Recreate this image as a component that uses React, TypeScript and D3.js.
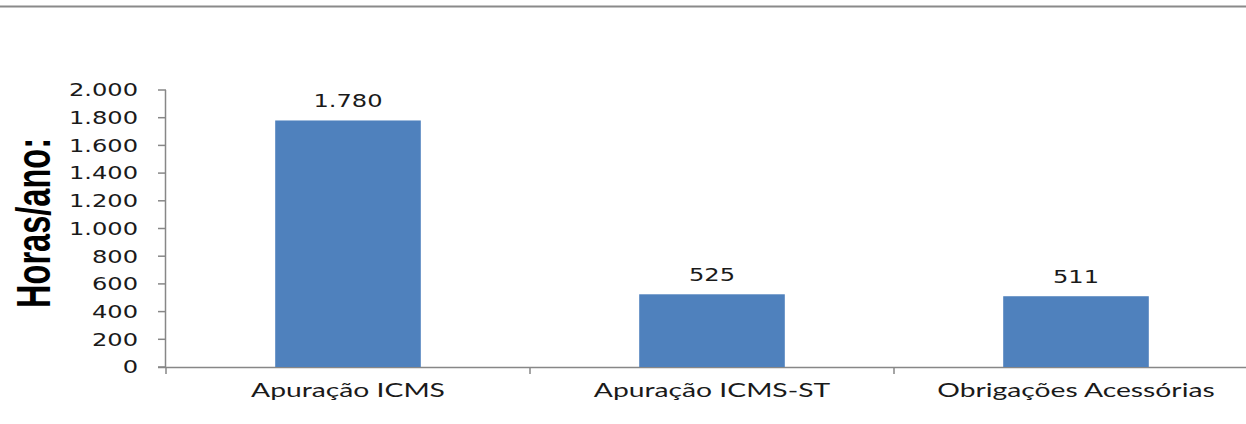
import * as d3 from "d3";
import React from "react";

const categories = ["Apuração ICMS", "Apuração ICMS-ST", "Obrigações Acessórias"];
const hours = [1780, 525, 511];
const yTicks = [0, 200, 400, 600, 800, 1000, 1200, 1400, 1600, 1800, 2000];
const yTitle = "Horas/ano:";

const W = 1246;
const H = 424;
const axisColor = "#878787";
const barColor = "#4F81BD";
const stretch = 1.38; // the picture is stretched sideways

const ptBr = d3.formatLocale({ decimal: ",", thousands: ".", grouping: [3], currency: ["R$", ""] });
const fmt = ptBr.format(",d");

export default function App() {
  const x = d3.scaleBand<string>()
    .domain(categories)
    .range([166, 1258])
    .paddingInner(0.6)
    .paddingOuter(0.3);
  const y = d3.scaleLinear().domain([0, 2000]).range([367, 90]);
  const x0 = 166;
  const y0 = y(0);
  const step = x.step();
  // boundaries between categories, where excel puts the tick marks
  const bounds = d3.range(categories.length + 1).map(i => x0 + i * step);

  return (
    <svg width={W} height={H} style={{ position: "absolute", left: 0, top: 0, background: "#fff" }}>
      <line x1={0} x2={W} y1={6.5} y2={6.5} stroke="#8a8a8a" strokeWidth={2} />

      {/* y axis */}
      <line x1={x0 - 0.5} x2={x0 - 0.5} y1={y(2000)} y2={y0 + 1} stroke={axisColor} strokeWidth={1.5} />
      {yTicks.map(t => (
        <g key={t}>
          <line x1={x0 - 8} x2={x0} y1={y(t)} y2={y(t)} stroke={axisColor} strokeWidth={1.5} />
          <text
            transform={`translate(138,${y(t)}) scale(${stretch},1)`}
            textAnchor="end"
            dy="0.36em"
            fontFamily="DejaVu Sans, Verdana, sans-serif"
            fontSize={17.5}
            fill="#1a1a1a"
          >
            {fmt(t)}
          </text>
        </g>
      ))}

      {/* x axis */}
      <line x1={x0 - 8} x2={W} y1={y0 + 0.5} y2={y0 + 0.5} stroke={axisColor} strokeWidth={1.5} />
      {bounds.map((b, i) => (
        <line key={i} x1={b} x2={b} y1={y0} y2={y0 + 7} stroke={axisColor} strokeWidth={1.5} />
      ))}

      {/* bars */}
      {categories.map((c, i) => (
        <g key={c}>
          <rect x={x(c)} y={y(hours[i])} width={x.bandwidth()} height={y0 - y(hours[i])} fill={barColor} />
          <text
            transform={`translate(${x(c)! + x.bandwidth() / 2},${y(hours[i]) - 13}) scale(${stretch},1)`}
            textAnchor="middle"
            fontFamily="DejaVu Sans, Verdana, sans-serif"
            fontSize={17.5}
            fill="#1a1a1a"
          >
            {fmt(hours[i])}
          </text>
          <text
            transform={`translate(${x(c)! + x.bandwidth() / 2},397) scale(1.45,1)`}
            textAnchor="middle"
            fontFamily="Lato, Carlito, sans-serif"
            fontSize={19.5}
            fill="#1a1a1a"
          >
            {c}
          </text>
        </g>
      ))}

      {/* axis title, heavily condensed in the original */}
      <text
        transform={`translate(50,223) rotate(-90)`}
        textAnchor="middle"
        fontFamily="Liberation Sans Narrow, Arial Narrow, Liberation Sans, sans-serif"
        fontWeight="bold"
        fontSize={48}
        fill="#000"
        textLength={170}
        lengthAdjust="spacingAndGlyphs"
      >
        {yTitle}
      </text>
    </svg>
  );
}
